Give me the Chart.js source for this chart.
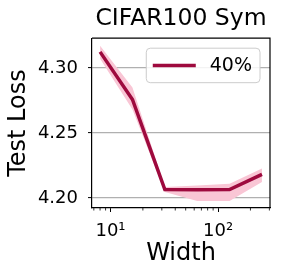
<!DOCTYPE html>
<html><head><meta charset="utf-8">
<script src="https://cdn.jsdelivr.net/npm/chart.js@4.4.1/dist/chart.umd.min.js"></script>
<style>html,body{margin:0;padding:0;background:#fff;overflow:hidden}</style>
</head><body>
<canvas id="c" width="282" height="278" style="display:block;width:282px;height:278px"></canvas>
<script>
const widths = [8, 16, 32, 64, 128, 256];
const meanLoss = [4.3123, 4.2757, 4.2065, 4.2064, 4.2065, 4.2182];
const upperLoss = [4.3170, 4.2850, 4.2085, 4.2095, 4.2110, 4.2226];
const lowerLoss = [4.3070, 4.2680, 4.2046, 4.1977, 4.1977, 4.2123];
const yTicks = [4.20, 4.25, 4.30];
const xMajorTicks = [10, 100];
const xMinorTicks = [7, 8, 9, 20, 30, 40, 50, 60, 70, 80, 90, 200, 300];
const seriesLabel = '40%';
const titleText = 'CIFAR100 Sym';
const xLabel = 'Width';
const yLabel = 'Test Loss';
const superDigits = {1: '\u00B9', 2: '\u00B2'};

const FONT = "'DejaVu Sans', sans-serif";
const LINE = '#9e0a3e';
const BAND = '#f9c6d5';

const frame = {
  id: 'frame',
  afterDraw(chart) {
    const ctx = chart.ctx, a = chart.chartArea, xs = chart.scales.x;
    ctx.save();
    ctx.strokeStyle = '#000'; ctx.lineWidth = 0.8;
    xMinorTicks.forEach(v => {
      const px = xs.getPixelForValue(v);
      if (px < a.left - 0.5 || px > a.right + 0.5) return;
      ctx.beginPath(); ctx.moveTo(px, a.bottom); ctx.lineTo(px, a.bottom + 2.5); ctx.stroke();
    });
    ctx.lineWidth = 1.2; ctx.strokeStyle = '#000';
    ctx.beginPath();
    ctx.moveTo(a.left, a.top); ctx.lineTo(a.right, a.top); ctx.lineTo(a.right, a.bottom);
    ctx.stroke();
    ctx.font = '19px ' + FONT;
    const tw = ctx.measureText(seriesLabel).width;
    const right = a.right - 10, top = a.top + 10, h = 34.5;
    const left = right - (8 + tw + 14 + 43 + 6.5);
    ctx.beginPath();
    ctx.roundRect(left, top, right - left, h, 4);
    ctx.fillStyle = 'rgba(255,255,255,0.85)'; ctx.fill();
    ctx.strokeStyle = '#cccccc'; ctx.lineWidth = 1; ctx.stroke();
    const cy = top + h / 2;
    ctx.beginPath(); ctx.moveTo(left + 6.5, cy); ctx.lineTo(left + 49.5, cy);
    ctx.strokeStyle = LINE; ctx.lineWidth = 3.5; ctx.stroke();
    ctx.fillStyle = '#000'; ctx.textBaseline = 'middle'; ctx.textAlign = 'left';
    ctx.fillText(seriesLabel, left + 63.5, cy + 1);
    ctx.restore();
  }
};

const pts = arr => widths.map((w, i) => ({x: w, y: arr[i]}));

new Chart(document.getElementById('c'), {
  type: 'line',
  data: {
    datasets: [
      {label: seriesLabel, data: pts(meanLoss), borderColor: LINE, borderWidth: 3.5, pointRadius: 0, fill: false, tension: 0},
      {label: 'upper', data: pts(upperLoss), borderWidth: 0, borderColor: 'rgba(0,0,0,0)', pointRadius: 0, fill: '+1', backgroundColor: BAND},
      {label: 'lower', data: pts(lowerLoss), borderWidth: 0, borderColor: 'rgba(0,0,0,0)', pointRadius: 0, fill: false}
    ]
  },
  options: {
    responsive: false, animation: false, devicePixelRatio: 1,
    layout: {padding: {left: 0, right: 12, top: 0, bottom: 0}},
    plugins: {
      legend: {display: false}, tooltip: {enabled: false},
      title: {display: true, text: titleText, fullSize: false, color: '#000',
        font: {family: FONT, size: 23.5, weight: 'normal'}, padding: {top: 5, bottom: 5}}
    },
    scales: {
      x: {
        type: 'logarithmic', min: 6.73, max: 304,
        afterBuildTicks(s) { s.ticks = xMajorTicks.map(v => ({value: v, major: true})); },
        ticks: {callback: v => '10' + superDigits[Math.round(Math.log10(v))], font: {family: FONT, size: 18}, color: '#000', padding: 9, maxRotation: 0, autoSkip: false},
        grid: {drawOnChartArea: false, tickLength: 4, tickColor: '#000', tickWidth: 1},
        border: {color: '#000', width: 1.2},
        title: {display: true, text: xLabel, color: '#000', font: {family: FONT, size: 24}, padding: {top: 0, bottom: 10}},
        afterFit(s) { s.height = 70; }
      },
      y: {
        min: 4.1923, max: 4.3228,
        afterBuildTicks(s) { s.ticks = yTicks.map(v => ({value: v})); },
        ticks: {callback: v => Number(v).toFixed(2), font: {family: FONT, size: 18}, color: '#000', padding: 10},
        grid: {color: '#b0b0b0', lineWidth: 1.2, tickLength: 4, tickColor: '#000', tickWidth: 1},
        border: {color: '#000', width: 1.2},
        title: {display: true, text: yLabel, color: '#000', font: {family: FONT, size: 24}, padding: {top: 4, bottom: 0}},
        afterFit(s) { s.width = 92; }
      }
    }
  },
  plugins: [frame]
});
</script>
</body></html>
